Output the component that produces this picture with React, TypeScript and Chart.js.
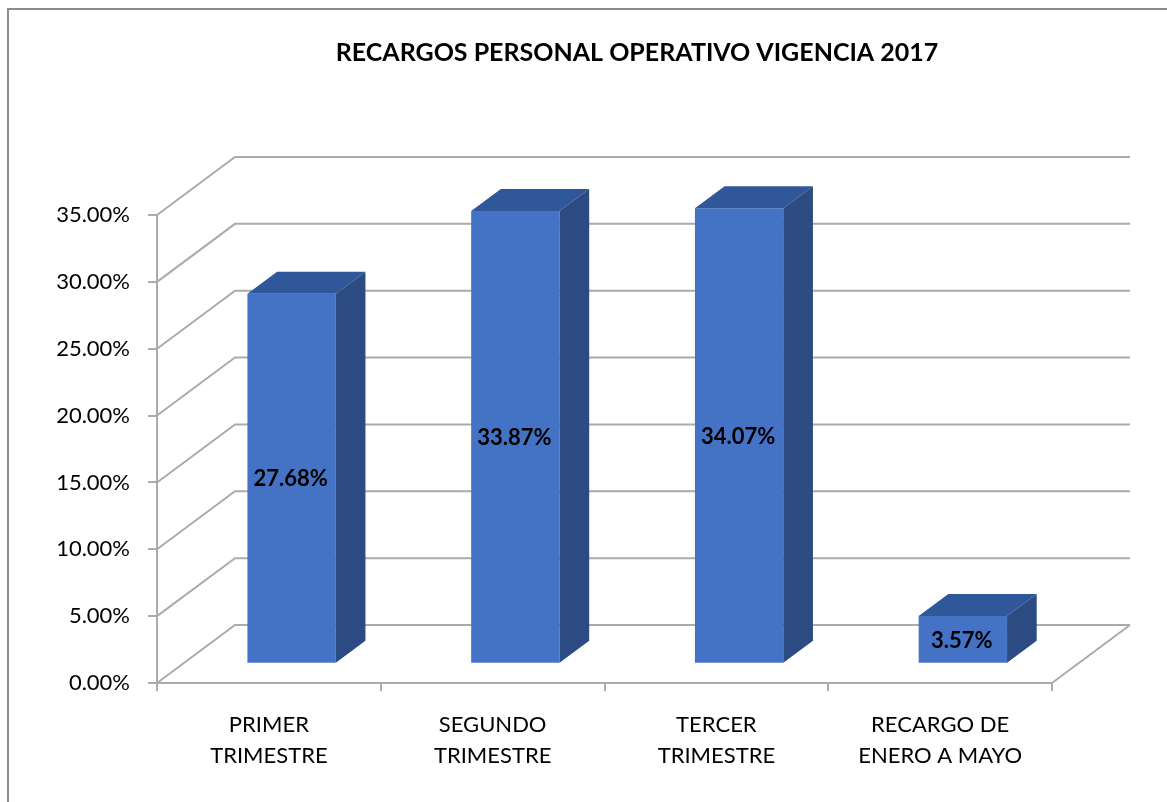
import React, { useEffect, useRef } from 'react';
import { Chart, registerables } from 'chart.js';

Chart.register(...registerables);

// ---- data ----
const TITLE = 'RECARGOS PERSONAL OPERATIVO VIGENCIA 2017';
const categories: string[][] = [
  ['PRIMER', 'TRIMESTRE'],
  ['SEGUNDO', 'TRIMESTRE'],
  ['TERCER', 'TRIMESTRE'],
  ['RECARGO DE', 'ENERO A MAYO'],
];
const values: number[] = [0.2768, 0.3387, 0.3407, 0.0357];
const yMin = 0;
const yMax = 0.35;
const yStep = 0.05;

// ---- styling / 3D geometry ----
const W = 1167;
const H = 802;
const DEPTH_DX = 78;
const DEPTH_DY = -58;
const BAR_FRONT = 0.33;
const BAR_BACK = 0.71;
const BAR_SHIFT_X = -3;
const GRID_COLOR = '#ABABAB';
const FRONT_COLOR = '#4472C4';
const TOP_COLOR = '#31579B';
const SIDE_COLOR = '#2B4B82';
const FONT = 'Lato';

const fmtPct = (v: number) => (v * 100).toFixed(2) + '%';

const threeDPlugin = {
  id: 'threeD',
  beforeDraw(chart: any) {
    const { ctx } = chart;
    ctx.save();
    ctx.strokeStyle = '#8C8C8C';
    ctx.lineWidth = 2;
    ctx.beginPath();
    ctx.moveTo(8, H);
    ctx.lineTo(8, 9);
    ctx.lineTo(W, 9);
    ctx.stroke();
    ctx.fillStyle = '#000';
    ctx.font = `bold 25px ${FONT}`;
    ctx.textAlign = 'center';
    ctx.textBaseline = 'middle';
    ctx.fillText(TITLE, 637, 53);
    ctx.restore();
  },
  beforeDatasetsDraw(chart: any) {
    const { ctx } = chart;
    const x = chart.scales.x;
    const y = chart.scales.y;
    const left = x.left;
    const right = x.right;
    ctx.save();
    ctx.strokeStyle = GRID_COLOR;
    ctx.lineWidth = 2;
    ctx.beginPath();
    for (const t of y.ticks) {
      const py = y.getPixelForValue(t.value);
      ctx.moveTo(left, py);
      ctx.lineTo(left + DEPTH_DX, py + DEPTH_DY);
      ctx.lineTo(right + DEPTH_DX, py + DEPTH_DY);
    }
    const py0 = y.getPixelForValue(yMin);
    ctx.moveTo(right, py0);
    ctx.lineTo(right + DEPTH_DX, py0 + DEPTH_DY);
    ctx.stroke();
    ctx.restore();
    ctx.save();
    ctx.translate(DEPTH_DX * BAR_FRONT + BAR_SHIFT_X, DEPTH_DY * BAR_FRONT);
  },
  afterDatasetsDraw(chart: any) {
    const { ctx } = chart;
    const bdx = DEPTH_DX * (BAR_BACK - BAR_FRONT);
    const bdy = DEPTH_DY * (BAR_BACK - BAR_FRONT);
    const meta = chart.getDatasetMeta(0);
    meta.data.forEach((bar: any, i: number) => {
      const { x, y, base, width } = bar.getProps(['x', 'y', 'base', 'width'], true);
      const l = x - width / 2;
      const r = x + width / 2;
      // top face
      ctx.fillStyle = TOP_COLOR;
      ctx.beginPath();
      ctx.moveTo(l, y);
      ctx.lineTo(r, y);
      ctx.lineTo(r + bdx, y + bdy);
      ctx.lineTo(l + bdx, y + bdy);
      ctx.closePath();
      ctx.fill();
      // side face
      ctx.fillStyle = SIDE_COLOR;
      ctx.beginPath();
      ctx.moveTo(r, y);
      ctx.lineTo(r + bdx, y + bdy);
      ctx.lineTo(r + bdx, base + bdy);
      ctx.lineTo(r, base);
      ctx.closePath();
      ctx.fill();
      // label
      ctx.fillStyle = '#000';
      ctx.font = `bold 22px ${FONT}`;
      ctx.textAlign = 'center';
      ctx.textBaseline = 'middle';
      ctx.fillText(fmtPct(values[i]), x - 1, (y + base) / 2 + 1);
    });
    ctx.restore();
  },
};

export default function App() {
  const ref = useRef<HTMLCanvasElement | null>(null);
  useEffect(() => {
    if (!ref.current) return;
    const chart = new Chart(ref.current, {
      type: 'bar',
      data: {
        labels: categories,
        datasets: [
          {
            data: values,
            backgroundColor: FRONT_COLOR,
            borderWidth: 0,
            categoryPercentage: 1,
            barPercentage: 0.395,
            clip: false as any,
          },
        ],
      },
      options: {
        animation: false,
        responsive: false,
        devicePixelRatio: 1,
        layout: { padding: { top: 215, right: 115, bottom: 0, left: 0 } },
        plugins: {
          legend: { display: false },
          tooltip: { enabled: false },
          title: { display: false },
        },
        scales: {
          x: {
            ticks: {
              font: { family: FONT, size: 22, lineHeight: 1.41 },
              color: '#000',
              padding: 18,
              maxRotation: 0,
              autoSkip: false,
            },
            grid: { drawOnChartArea: false, tickLength: 8, color: GRID_COLOR, lineWidth: 2, offset: true },
            border: { color: GRID_COLOR, width: 2 },
            afterFit: (s: any) => {
              s.height = 119;
            },
          },
          y: {
            min: yMin,
            max: yMax,
            ticks: {
              stepSize: yStep,
              callback: (v: any) => fmtPct(Number(v)),
              font: { family: FONT, size: 22 },
              color: '#000',
              padding: 18,
            },
            grid: { drawOnChartArea: false, tickLength: 9, color: GRID_COLOR, lineWidth: 2 },
            border: { color: GRID_COLOR, width: 2 },
            afterFit: (s: any) => {
              s.width = 157;
            },
          },
        },
      },
      plugins: [threeDPlugin],
    });
    return () => chart.destroy();
  }, []);
  return (
    <div style={{ position: 'fixed', left: 0, top: 0, width: W, height: H, background: '#fff' }}>
      <canvas ref={ref} width={W} height={H} />
    </div>
  );
}
